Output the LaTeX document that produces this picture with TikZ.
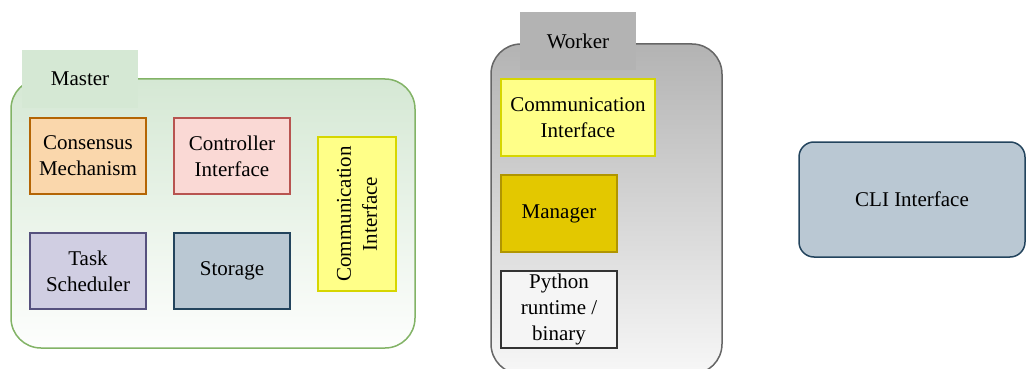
\documentclass[tikz,border=0pt]{standalone}
\usepackage{fontspec}
\setmainfont{Liberation Serif}
\definecolor{mgreenfill}{HTML}{D5E8D4}
\definecolor{mgreenline}{HTML}{82B366}
\definecolor{orfill}{HTML}{FAD7AC}
\definecolor{orline}{HTML}{B46504}
\definecolor{rdfill}{HTML}{FAD9D5}
\definecolor{rdline}{HTML}{B85450}
\definecolor{pufill}{HTML}{D0CEE2}
\definecolor{puline}{HTML}{56517E}
\definecolor{blfill}{HTML}{BAC8D3}
\definecolor{blline}{HTML}{23445D}
\definecolor{yefill}{HTML}{FFFF88}
\definecolor{yeline}{HTML}{D6D600}
\definecolor{gdfill}{HTML}{E3C800}
\definecolor{gdline}{HTML}{B09500}
\definecolor{gyfill}{HTML}{F5F5F5}
\definecolor{gyline}{HTML}{333333}
\definecolor{wkline}{HTML}{666666}
\definecolor{wktab}{HTML}{B3B3B3}
\begin{document}
\begin{tikzpicture}[x=1pt,y=-1pt,
  every node/.style={font=\fontsize{21}{26}\selectfont, align=center, inner sep=0pt},
  blk/.style={draw, line width=1.5pt, rectangle},
  tab/.style={rectangle, minimum width=116pt, minimum height=58pt},
  container/.style={draw, line width=1.5pt, rectangle, rounded corners=30pt}]
  \useasboundingbox (0,0) rectangle (1026,369);

  % Master group
  \node[container, draw=mgreenline, top color=mgreenfill, bottom color=white!96!mgreenfill,
        minimum width=404pt, minimum height=269pt] (master) at (213,213.5) {};
  \node[tab, fill=mgreenfill] (mastertab) at (80,79) {Master};
  \node[blk, fill=orfill, draw=orline, minimum width=116pt, minimum height=76pt]
    (consensus) at (88,156) {Consensus\\Mechanism};
  \node[blk, fill=rdfill, draw=rdline, minimum width=116pt, minimum height=76pt]
    (controller) at (232,156) {Controller\\Interface};
  \node[blk, fill=pufill, draw=puline, minimum width=116pt, minimum height=76pt]
    (scheduler) at (88,271) {Task\\Scheduler};
  \node[blk, fill=blfill, draw=blline, minimum width=116pt, minimum height=76pt]
    (storage) at (232,271) {Storage};
  \node[blk, fill=yefill, draw=yeline, minimum width=78pt, minimum height=154pt]
    (mcomm) at (357,214) {};
  \node[rotate=90] (mcommtext) at (mcomm.center) {Communication\\Interface};

  % Worker group
  \node[container, draw=wkline, top color=wktab, bottom color=gyfill!80!white,
        minimum width=231pt, minimum height=330pt] (worker) at (606.5,209) {};
  \node[tab, fill=wktab] (workertab) at (578,41) {Worker};
  \node[blk, fill=yefill, draw=yeline, minimum width=154pt, minimum height=77pt]
    (wcomm) at (578,117.5) {Communication\\Interface};
  \node[blk, fill=gdfill, draw=gdline, minimum width=116pt, minimum height=77pt]
    (manager) at (559,213.5) {Manager};
  \node[blk, fill=gyfill, draw=gyline, minimum width=116pt, minimum height=77pt]
    (runtime) at (559,309.5) {Python\\runtime /\\binary};

  % CLI
  \node[blk, rounded corners=15pt, fill=blfill, draw=blline, minimum width=226pt, minimum height=115pt]
    (cli) at (912,199.5) {CLI Interface};
\end{tikzpicture}
\end{document}
